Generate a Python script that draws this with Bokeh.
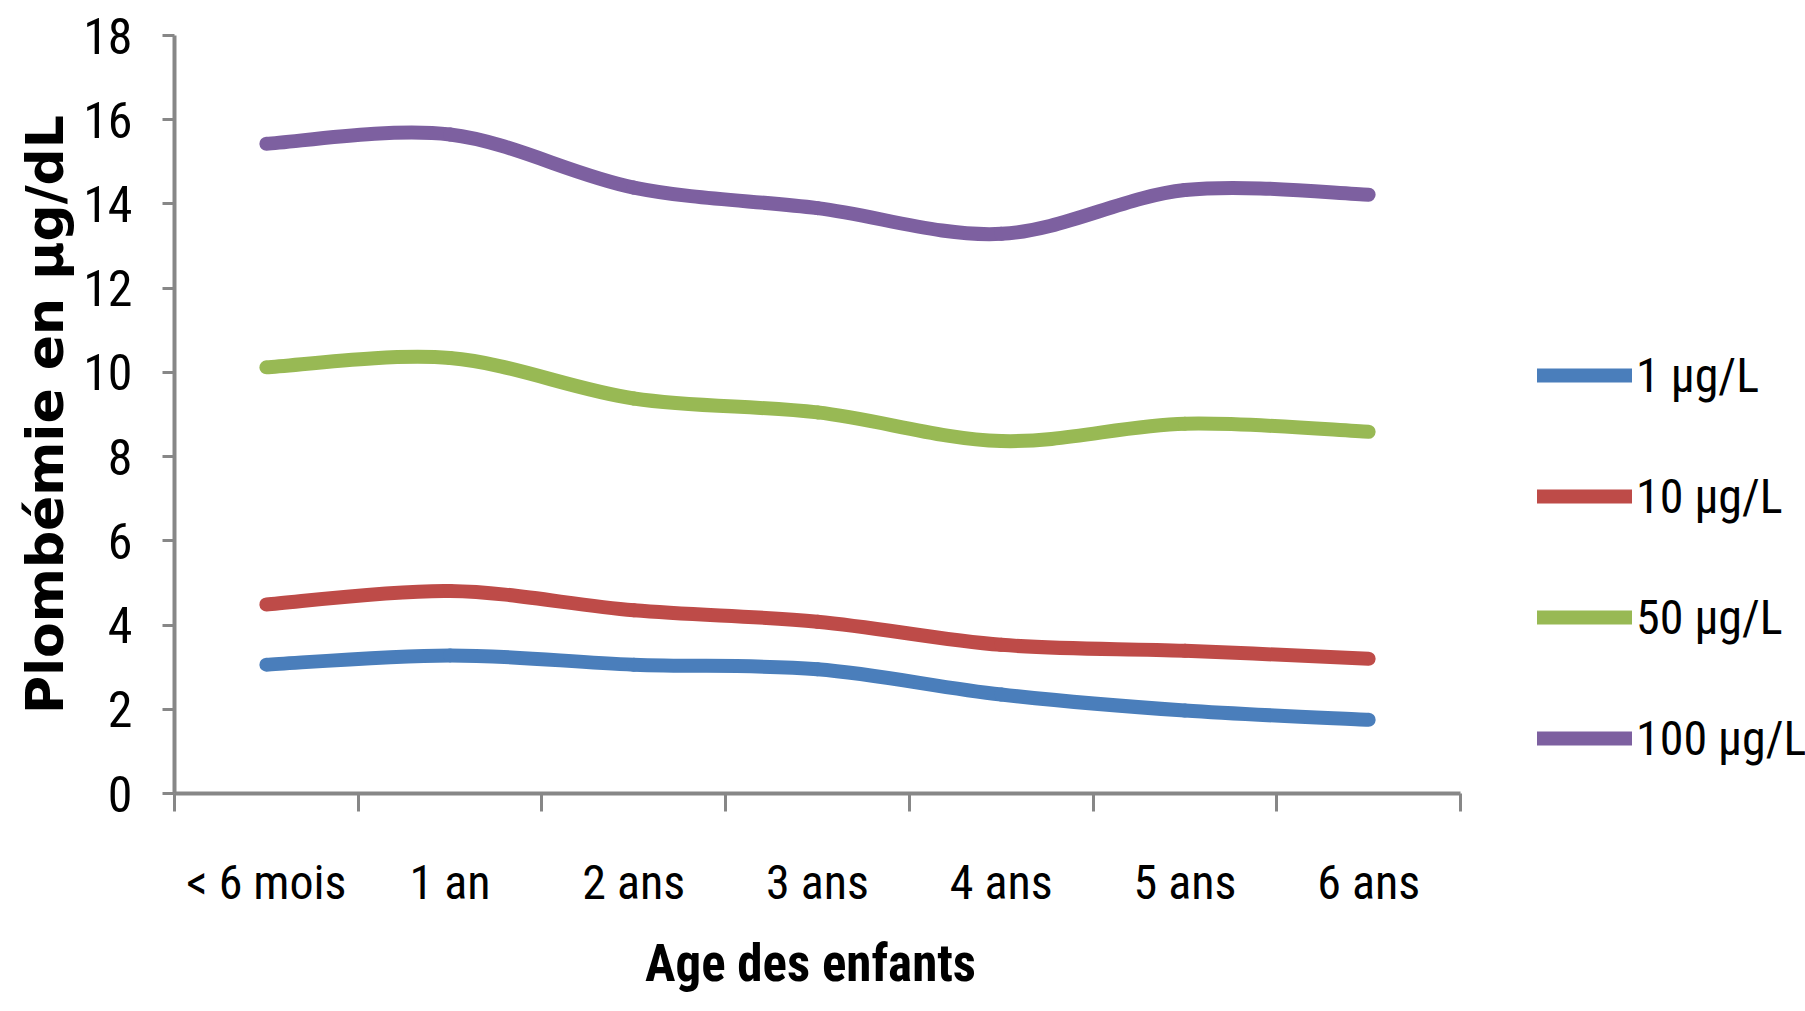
from bokeh.plotting import figure
from bokeh.models import FixedTicker, Legend, LegendItem, Range1d, Title
from bokeh.embed import file_html
from bokeh.resources import INLINE

# Age groups and mean blood lead (µg/dL) per tap-water lead concentration
categories = ["< 6 mois", "1 an", "2 ans", "3 ans", "4 ans", "5 ans", "6 ans"]
series_names = ["1 µg/L", "10 µg/L", "50 µg/L", "100 µg/L"]
conc_1 = [3.06, 3.28, 3.06, 2.95, 2.35, 1.97, 1.75]
conc_10 = [4.49, 4.81, 4.35, 4.08, 3.53, 3.39, 3.20]
conc_50 = [10.12, 10.34, 9.38, 9.05, 8.37, 8.78, 8.59]
conc_100 = [15.43, 15.65, 14.39, 13.90, 13.29, 14.33, 14.22]
series_values = [conc_1, conc_10, conc_50, conc_100]
colors = ["#4A7EBB", "#BE4B48", "#98B954", "#7D60A0"]
y_ticks = [0, 2, 4, 6, 8, 10, 12, 14, 16, 18]
x_title = "Age des enfants"
y_title = "Plombémie en µg/dL"

FONT = "Roboto Condensed"
AXIS_GRAY = "#878787"

# the plotting frame runs to the right edge so the legend can sit beside the
# axes; the category axis itself only spans the seven categories
W, H = 1805, 1011
LEFT, TOP, BOTTOM = 174, 35, 218
AXIS_PX = 1286
n_cat = len(categories)
x_end = n_cat * (W - LEFT) / AXIS_PX

p = figure(
    width=W, height=H,
    x_range=Range1d(0, x_end), y_range=Range1d(0, 18),
    output_backend="svg", toolbar_location=None,
    min_border_left=LEFT, min_border_right=0,
    min_border_top=TOP, min_border_bottom=BOTTOM,
)
p.outline_line_color = None
p.xgrid.visible = False
p.ygrid.visible = False
p.background_fill_color = "white"
p.border_fill_color = "white"

# category centres sit between the boundary ticks
centers = [i + 0.5 for i in range(n_cat)]
bounds = list(range(n_cat + 1))

xa = p.xaxis[0]
xa.bounds = (0, n_cat)
xa.ticker = FixedTicker(ticks=centers, minor_ticks=bounds)
xa.major_label_overrides = {c: lab for c, lab in zip(centers, categories)}
xa.major_tick_out = 0
xa.major_tick_in = 0
xa.minor_tick_out = 18
xa.minor_tick_in = 0
xa.minor_tick_line_color = AXIS_GRAY
xa.minor_tick_line_width = 3
xa.axis_line_color = AXIS_GRAY
xa.axis_line_width = 4
xa.major_label_text_font = FONT
xa.major_label_text_font_size = "48px"
xa.major_label_text_color = "black"
xa.major_label_standoff = 42

# x-axis title, centred under the category axis rather than the whole frame
TITLE_W = 335
xt = Title(text=x_title, align="left",
           offset=AXIS_PX / 2 - TITLE_W / 2 - 5, standoff=37,
           text_font=FONT, text_font_style="bold",
           text_font_size="51px", text_color="black")
p.add_layout(xt, "below")

ya = p.yaxis[0]
ya.ticker = FixedTicker(ticks=y_ticks, minor_ticks=[])
ya.major_tick_out = 12
ya.major_tick_in = 0
ya.major_tick_line_color = AXIS_GRAY
ya.major_tick_line_width = 3
ya.axis_line_color = AXIS_GRAY
ya.axis_line_width = 4
ya.major_label_text_font = FONT
ya.major_label_text_font_size = "50px"
ya.major_label_text_color = "black"
ya.major_label_standoff = 30
ya.axis_label = y_title
ya.axis_label_text_font = "DejaVu Sans"
ya.axis_label_text_font_style = "bold"
ya.axis_label_text_font_size = "52px"
ya.axis_label_text_color = "black"
ya.axis_label_standoff = 5


def smooth_segments(xs, ys):
    """Cubic Bezier segments through the points (Excel-style smoothed line)."""
    n = len(xs)
    seg = dict(x0=[], y0=[], x1=[], y1=[], cx0=[], cy0=[], cx1=[], cy1=[])
    for i in range(n - 1):
        a = max(i - 1, 0)
        d = min(i + 2, n - 1)
        seg["x0"].append(xs[i]); seg["y0"].append(ys[i])
        seg["x1"].append(xs[i + 1]); seg["y1"].append(ys[i + 1])
        seg["cx0"].append(xs[i] + (xs[i + 1] - xs[a]) / 6)
        seg["cy0"].append(ys[i] + (ys[i + 1] - ys[a]) / 6)
        seg["cx1"].append(xs[i + 1] - (xs[d] - xs[i]) / 6)
        seg["cy1"].append(ys[i + 1] - (ys[d] - ys[i]) / 6)
    return seg


items = []
for name, vals, col in zip(series_names, series_values, colors):
    seg = smooth_segments(centers, vals)
    r = p.bezier(x0="x0", y0="y0", x1="x1", y1="y1",
                 cx0="cx0", cy0="cy0", cx1="cx1", cy1="cy1",
                 source=seg, line_color=col, line_width=14, line_cap="round")
    items.append(LegendItem(label=name, renderers=[r]))

legend = Legend(
    items=items,
    location=(1363, 25),
    orientation="vertical",
    glyph_width=95, glyph_height=60,
    label_height=60, label_standoff=4,
    spacing=61, padding=0, margin=0,
    label_text_font=FONT, label_text_font_size="48px",
    label_text_color="black",
    border_line_alpha=0, background_fill_alpha=0,
)
p.add_layout(legend, "center")

open("out.html", "w").write(file_html(p, INLINE))
